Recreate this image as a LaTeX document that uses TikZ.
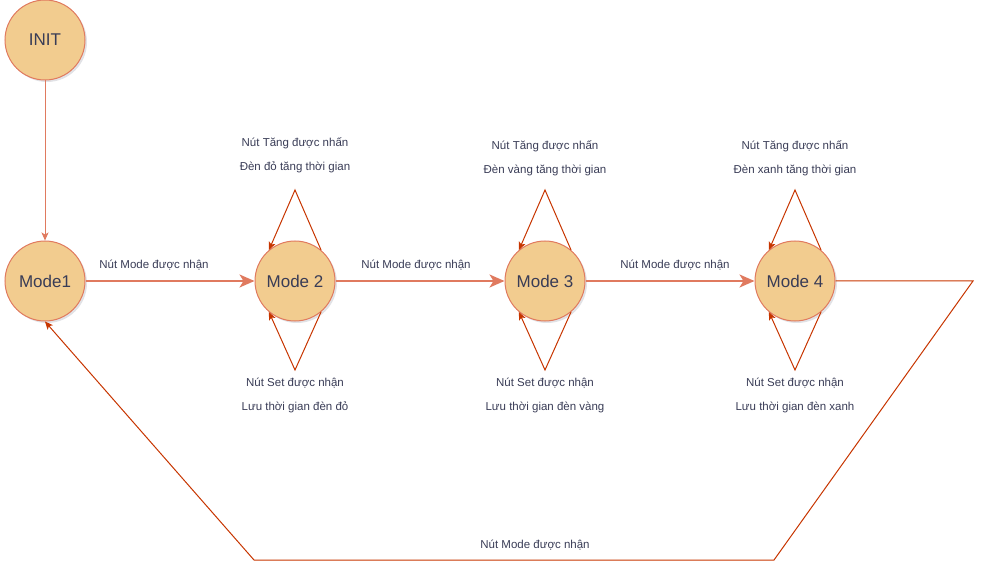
\documentclass[tikz,border=0pt]{standalone}
\usepackage{fontspec}
\setmainfont{Liberation Sans}
\usetikzlibrary{arrows.meta,shadows}
\definecolor{cfill}{HTML}{F2CC8F}
\definecolor{cline}{HTML}{E07A5F}
\definecolor{cdark}{HTML}{C73500}
\definecolor{ctext}{HTML}{393C56}
\tikzset{
  state/.style={circle, draw=cline, fill=cfill, line width=1pt, minimum size=80pt, inner sep=0pt, text=ctext, font=\fontsize{17}{20}\selectfont,
    drop shadow={shadow xshift=2pt, shadow yshift=-2pt, opacity=0.15, fill=ctext}},
  mainarr/.style={draw=cline, line width=2pt, -{Stealth[length=15pt,width=13pt,inset=4pt]}},
  thinarr/.style={draw=cline, line width=1pt, -{Stealth[length=8pt,width=7pt,inset=2pt]}},
  looparr/.style={draw=cdark, line width=1pt, -{Stealth[length=8pt,width=7pt,inset=2pt]}},
  lbl/.style={text=ctext, font=\fontsize{11.5}{14}\selectfont, inner sep=1pt}
}
\begin{document}
\begin{tikzpicture}[x=1pt,y=-1pt]
\useasboundingbox (0,0) rectangle (994,580);
\node[state] (init) at (45,40) {INIT};
\node[state] (m1) at (45,281) {Mode1};
\node[state] (m2) at (295,281) {Mode 2};
\node[state] (m3) at (545,281) {Mode 3};
\node[state] (m4) at (795,281) {Mode 4};

\draw[thinarr] (init) -- (m1);
\draw[mainarr] (m1) -- (m2);
\draw[mainarr] (m2) -- (m3);
\draw[mainarr] (m3) -- (m4);
\node[lbl] (e1) at (154,265) {Nút Mode được nhận};
\node[lbl] (e2) at (416,265) {Nút Mode được nhận};
\node[lbl] (e3) at (675,265) {Nút Mode được nhận};

\foreach \n/\x in {m2/295,m3/545,m4/795}{
  \coordinate (top\n) at (\x,190);
  \coordinate (bot\n) at (\x,370);
  \draw[looparr] (\n.50) -- (top\n) -- (\n.130);
  \draw[looparr] (\n.-50) -- (bot\n) -- (\n.-130);
}

\node[lbl] (t2a) at (295,143) {Nút Tăng được nhấn};
\node[lbl] (t2b) at (295,167) {Đèn đỏ tăng thời gian};
\node[lbl] (t3a) at (545,146) {Nút Tăng được nhấn};
\node[lbl] (t3b) at (545,170) {Đèn vàng tăng thời gian};
\node[lbl] (t4a) at (795,146) {Nút Tăng được nhấn};
\node[lbl] (t4b) at (795,170) {Đèn xanh tăng thời gian};

\node[lbl] (b2a) at (295,383) {Nút Set được nhận};
\node[lbl] (b2b) at (295,407) {Lưu thời gian đèn đỏ};
\node[lbl] (b3a) at (545,383) {Nút Set được nhận};
\node[lbl] (b3b) at (545,407) {Lưu thời gian đèn vàng};
\node[lbl] (b4a) at (795,383) {Nút Set được nhận};
\node[lbl] (b4b) at (795,407) {Lưu thời gian đèn xanh};

\coordinate (r1) at (973,281);
\coordinate (r2) at (774,560);
\coordinate (r3) at (254,560);
\draw[looparr] (m4.east) -- (r1) -- (r2) -- (r3) -- (m1.south);
\node[lbl] (e4) at (535,545) {Nút Mode được nhận};
\end{tikzpicture}
\end{document}
